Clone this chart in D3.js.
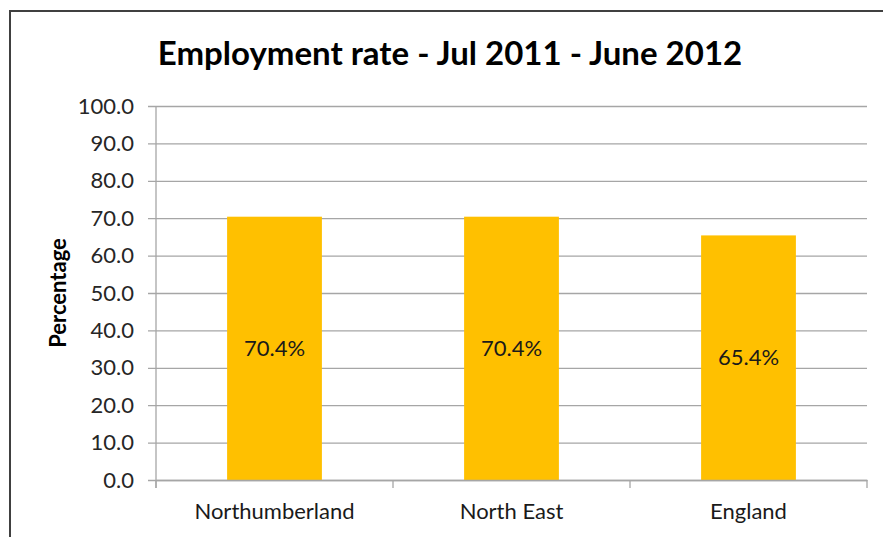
<!DOCTYPE html>
<html lang="en">
<head>
  <meta charset="UTF-8">
  <script src="https://d3js.org/d3.v7.min.js"></script>
  <title>Employment rate</title>
  <style>
    body { margin: 0; background: #fff; }
    text { font-family: Lato, "Open Sans", sans-serif; }
  </style>
</head>
<body>
  <div id="wrapper"></div>
  <script>
    const categories = ["Northumberland", "North East", "England"]
    const rates = [70.4, 70.4, 65.4]
    const yTicks = [0, 10, 20, 30, 40, 50, 60, 70, 80, 90, 100]

    const dimensions = {
      width: 883,
      height: 537,
      margin: { top: 106, right: 16, bottom: 57, left: 156 }
    }
    dimensions.boundedWidth = dimensions.width - dimensions.margin.left - dimensions.margin.right
    dimensions.boundedHeight = dimensions.height - dimensions.margin.top - dimensions.margin.bottom

    const svg = d3.select("#wrapper")
      .append("svg")
      .attr("width", dimensions.width)
      .attr("height", dimensions.height)

    // chart border (top and left visible)
    svg.append("path")
      .attr("d", "M10,540 L10,11 L890,11")
      .attr("fill", "none")
      .attr("stroke", "#404040")
      .attr("stroke-width", 2)

    svg.append("text")
      .attr("x", 450)
      .attr("y", 65)
      .attr("text-anchor", "middle")
      .style("font-size", "33px")
      .style("font-weight", "bold")
      .attr("fill", "#000")
      .text("Employment rate - Jul 2011 - June 2012")

    const bounds = svg.append("g")
      .attr("transform", `translate(${dimensions.margin.left}, ${dimensions.margin.top})`)

    const xScale = d3.scaleBand()
      .domain(categories)
      .range([0, dimensions.boundedWidth])
      .paddingInner(0.6)
      .paddingOuter(0.3)

    const yScale = d3.scaleLinear()
      .domain([0, 100])
      .range([dimensions.boundedHeight, 0])

    // gridlines + y ticks
    const yAxis = bounds.append("g")
      .call(d3.axisLeft(yScale)
        .tickValues(yTicks)
        .tickSize(-dimensions.boundedWidth - 8)
        .tickFormat(d3.format(".1f")))
    yAxis.select(".domain").remove()
    yAxis.selectAll(".tick line")
      .attr("x1", -8)
      .attr("x2", dimensions.boundedWidth)
      .attr("stroke", "#a6a6a6")
      .attr("stroke-width", 1.3)
    yAxis.selectAll(".tick text")
      .attr("x", -22)
      .attr("fill", "#262626")
      .style("font-size", "22px")
      .style("font-family", "Lato, sans-serif")

    // bars
    bounds.append("g")
      .selectAll("rect")
      .data(rates)
      .join("rect")
      .attr("x", (d, i) => xScale(categories[i]))
      .attr("y", d => yScale(d))
      .attr("width", xScale.bandwidth())
      .attr("height", d => dimensions.boundedHeight - yScale(d))
      .attr("fill", "#ffc000")

    // data labels
    bounds.append("g")
      .selectAll("text")
      .data(rates)
      .join("text")
      .attr("x", (d, i) => xScale(categories[i]) + xScale.bandwidth() / 2)
      .attr("y", d => (yScale(d) + dimensions.boundedHeight) / 2)
      .attr("dy", "0.35em")
      .attr("text-anchor", "middle")
      .attr("fill", "#1a1a1a")
      .style("font-size", "22px")
      .text(d => d.toFixed(1) + "%")

    // y axis line
    bounds.append("line")
      .attr("x1", 0).attr("x2", 0)
      .attr("y1", 0).attr("y2", dimensions.boundedHeight + 8)
      .attr("stroke", "#a6a6a6")
      .attr("stroke-width", 1.3)

    // x axis
    const step = dimensions.boundedWidth / categories.length
    const xAxis = bounds.append("g")
      .attr("transform", `translate(0, ${dimensions.boundedHeight})`)
      .call(d3.axisBottom(xScale).tickSize(0).tickPadding(23))
    xAxis.select(".domain")
      .attr("stroke", "#a6a6a6")
      .attr("stroke-width", 1.3)
    xAxis.selectAll(".tick text")
      .attr("fill", "#1a1a1a")
      .style("font-size", "22px")
      .style("font-family", "Lato, sans-serif")
    xAxis.selectAll(".cat-tick")
      .data(d3.range(categories.length + 1))
      .join("line")
      .attr("class", "cat-tick")
      .attr("x1", i => i * step)
      .attr("x2", i => i * step)
      .attr("y1", 0)
      .attr("y2", 8)
      .attr("stroke", "#a6a6a6")
      .attr("stroke-width", 1.3)

    // y axis title
    svg.append("text")
      .attr("transform", `translate(66, ${dimensions.margin.top + dimensions.boundedHeight / 2}) rotate(-90)`)
      .attr("text-anchor", "middle")
      .style("font-size", "22px")
      .style("font-weight", "bold")
      .attr("fill", "#000")
      .text("Percentage")
  </script>
</body>
</html>
